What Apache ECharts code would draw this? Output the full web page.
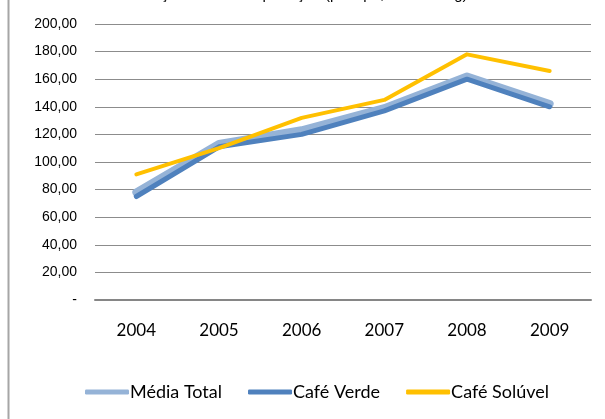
<!DOCTYPE html>
<html>
<head>
<meta charset="utf-8">
<script src="https://cdn.jsdelivr.net/npm/echarts@6/dist/echarts.min.js"></script>
<style>
  html, body { margin: 0; padding: 0; background: #fff; }
  #chart { width: 605px; height: 419px; }
</style>
</head>
<body>
<div id="chart"></div>
<script>
// anos e valores
var years = ['2004', '2005', '2006', '2007', '2008', '2009'];
var mediaTotal = [78, 113, 123, 139, 162, 142];
var cafeVerde = [75, 111, 120, 137, 160, 140];
var cafeSoluvel = [91, 110, 132, 145, 178, 166];
var yTicks = [0, 20, 40, 60, 80, 100, 120, 140, 160, 180, 200];

function fmtTick(v) {
    if (v === 0) return '-';
    return v.toFixed(2).replace('.', ',');
}

var chart = echarts.init(document.getElementById('chart'));

var option = {
    animation: false,
    title: {
        text: 'Preço médio de exportação (por tipo, em US$/kg)',
        left: 'center',
        top: -18,
        textStyle: { fontFamily: 'Liberation Sans', fontSize: 15, fontWeight: 'normal', color: '#000' }
    },
    graphic: [{
        type: 'line',
        shape: { x1: 8.5, y1: 0, x2: 8.5, y2: 419 },
        style: { stroke: '#a6a6a6', lineWidth: 2 }
    }],
    grid: { left: 95, right: 14, top: 24, bottom: 119 },
    legend: {
        bottom: 13,
        left: 80,
        itemWidth: 44,
        itemHeight: 5,
        itemGap: 26,
        icon: 'roundRect',
        textStyle: { fontFamily: 'Lato', fontSize: 18, color: '#000', padding: [0, 0, 0, -4] },
        data: ['Média Total', 'Café Verde', 'Café Solúvel']
    },
    xAxis: {
        type: 'category',
        data: years,
        boundaryGap: true,
        axisTick: { show: false },
        axisLine: { lineStyle: { color: '#868686', width: 2 } },
        axisLabel: { margin: 22, fontFamily: 'Lato', fontSize: 17, color: '#000' }
    },
    yAxis: {
        type: 'value',
        min: yTicks[0],
        max: yTicks[yTicks.length - 1],
        interval: 20,
        axisLine: { show: false },
        axisTick: { show: false },
        splitLine: { lineStyle: { color: '#8c8c8c', width: 1 } },
        axisLabel: {
            margin: 18,
            fontFamily: 'Liberation Sans',
            fontSize: 14,
            color: '#000',
            formatter: fmtTick
        }
    },
    series: [
        {
            name: 'Média Total',
            type: 'line',
            data: mediaTotal,
            symbol: 'none',
            z: 2,
            itemStyle: { color: '#95b3d7' },
            lineStyle: { color: '#95b3d7', width: 8, cap: 'round', join: 'round' }
        },
        {
            name: 'Café Verde',
            type: 'line',
            data: cafeVerde,
            symbol: 'none',
            z: 3,
            itemStyle: { color: '#4f81bd' },
            lineStyle: { color: '#4f81bd', width: 5, cap: 'round', join: 'round' }
        },
        {
            name: 'Café Solúvel',
            type: 'line',
            data: cafeSoluvel,
            symbol: 'none',
            z: 4,
            itemStyle: { color: '#ffc000' },
            lineStyle: { color: '#ffc000', width: 4, cap: 'round', join: 'round' }
        }
    ]
};

chart.setOption(option);
</script>
</body>
</html>
